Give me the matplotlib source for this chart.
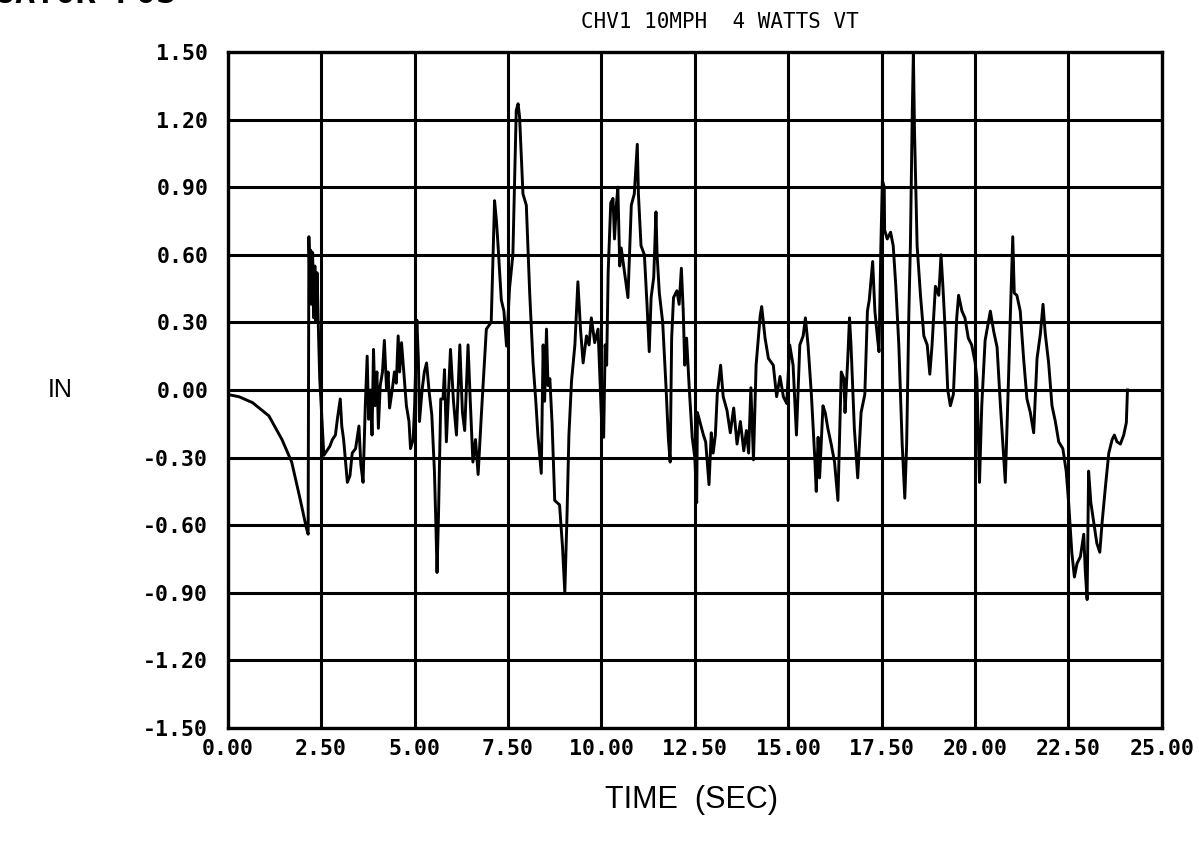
import numpy as np
import matplotlib
matplotlib.use("Agg")
import matplotlib.pyplot as plt


TITLE = "CHV1 10MPH  4 WATTS VT"
X_LABEL = "TIME  (SEC)"
Y_LABEL = "IN"

X_TICKS = [0.0, 2.5, 5.0, 7.5, 10.0, 12.5, 15.0, 17.5, 20.0, 22.5, 25.0]
Y_TICKS = [-1.5, -1.2, -0.9, -0.6, -0.3, 0.0, 0.3, 0.6, 0.9, 1.2, 1.5]

time_s = [
    0.00, 0.30, 0.66, 1.10, 1.45, 1.71, 1.93, 2.10, 2.15,
    2.17, 2.20, 2.22, 2.24, 2.27, 2.30, 2.33, 2.36, 2.39, 2.42, 2.46, 2.50, 2.57,
    2.65, 2.73, 2.80, 2.88, 2.94, 3.01, 3.05, 3.10, 3.20, 3.27, 3.33, 3.42, 3.51,
    3.56, 3.62, 3.68, 3.73, 3.77, 3.82, 3.86, 3.90, 3.94, 3.99, 4.03, 4.08, 4.14,
    4.19, 4.25, 4.29, 4.33, 4.40, 4.46, 4.51, 4.56, 4.60, 4.65, 4.71, 4.78, 4.85,
    4.89, 4.96, 5.00, 5.06, 5.10, 5.13, 5.20, 5.26, 5.32, 5.39, 5.46, 5.53, 5.57,
    5.60, 5.64, 5.70,
    5.76, 5.80, 5.85, 5.96, 6.04, 6.12, 6.21, 6.28, 6.34, 6.43, 6.49, 6.56, 6.63,
    6.70, 6.79, 6.92, 7.05, 7.14, 7.19, 7.23, 7.32, 7.39, 7.46, 7.54, 7.63, 7.72,
    7.77, 7.81, 7.90, 7.99, 8.08, 8.17, 8.24, 8.30, 8.39, 8.44, 8.48, 8.53, 8.57,
    8.62, 8.68, 8.75, 8.88, 8.96, 9.02, 9.08, 9.13, 9.20, 9.29, 9.37, 9.44, 9.51,
    9.60, 9.67, 9.73, 9.82, 9.91, 10.00, 10.06, 10.10, 10.14,
    10.18, 10.25, 10.31, 10.35, 10.40, 10.44, 10.49, 10.53, 10.62, 10.71, 10.80,
    10.88, 10.96, 10.99, 11.06, 11.15, 11.22, 11.28, 11.33, 11.40, 11.46, 11.49,
    11.55, 11.64, 11.73, 11.79, 11.84, 11.88, 11.93, 12.02, 12.08, 12.14, 12.19,
    12.23, 12.28, 12.35, 12.43, 12.50, 12.55, 12.57, 12.65, 12.73, 12.79, 12.88,
    12.94, 12.99, 13.05, 13.10, 13.19, 13.26, 13.36, 13.45, 13.54, 13.63, 13.72,
    13.81, 13.88, 13.94, 14.00, 14.07, 14.14, 14.25, 14.29, 14.38, 14.47, 14.60,
    14.69, 14.78, 14.87, 14.96, 15.04,
    15.13, 15.22, 15.31, 15.40, 15.46, 15.53, 15.62, 15.71, 15.75, 15.80, 15.84,
    15.93, 15.99, 16.06, 16.15, 16.24, 16.33, 16.42, 16.49, 16.52, 16.59, 16.64,
    16.68, 16.77, 16.86, 16.95, 17.05, 17.12, 17.17, 17.26, 17.32, 17.39, 17.43,
    17.48, 17.52, 17.57, 17.58, 17.65, 17.74, 17.81, 17.88, 17.96, 18.05, 18.12,
    18.17, 18.23, 18.27, 18.32, 18.35, 18.38, 18.45, 18.54, 18.63, 18.72, 18.79,
    18.85, 18.94, 19.03, 19.09, 19.14, 19.20, 19.27, 19.34, 19.42, 19.51, 19.56,
    19.65, 19.73, 19.82, 19.91, 20.00, 20.05,
    20.12, 20.18, 20.27, 20.41, 20.50, 20.59, 20.68, 20.81, 20.90, 20.94, 21.01,
    21.05, 21.12, 21.21, 21.30, 21.39, 21.48, 21.57, 21.66, 21.75, 21.82, 21.88,
    21.97, 22.06, 22.15, 22.24, 22.35, 22.44, 22.51, 22.59, 22.66, 22.73, 22.82,
    22.91, 22.95, 23.00, 23.04, 23.10, 23.17, 23.26, 23.34, 23.40, 23.49, 23.58,
    23.67, 23.73, 23.80, 23.89, 23.98, 24.05, 24.08,
]

disp_in = [
    -0.02, -0.03, -0.056, -0.115, -0.22, -0.32, -0.48, -0.61, -0.64,
    0.68, 0.45, 0.62, 0.38, 0.61, 0.32, 0.55, 0.30, 0.52, 0.30, 0.05, -0.07, -0.29,
    -0.27, -0.25, -0.22, -0.20, -0.12, -0.04, -0.16, -0.22, -0.41, -0.38, -0.28, -0.26, -0.16,
    -0.33, -0.41, -0.07, 0.15, -0.13, 0.00, -0.20, 0.18, -0.07, 0.08, -0.17, 0.02, 0.08,
    0.22, 0.00, 0.08, -0.08, 0.00, 0.08, 0.03, 0.24, 0.08, 0.21, 0.08, -0.07, -0.14,
    -0.26, -0.22, -0.07, 0.31, 0.14, -0.14, 0.00, 0.08, 0.12, -0.01, -0.11, -0.36, -0.60,
    -0.81, -0.55, -0.04,
    -0.04, 0.09, -0.23, 0.18, -0.05, -0.20, 0.20, -0.10, -0.18, 0.20, -0.05, -0.32, -0.22,
    -0.375, -0.10, 0.27, 0.30, 0.84, 0.75, 0.65, 0.40, 0.35, 0.195, 0.45, 0.60, 1.24,
    1.27, 1.21, 0.87, 0.82, 0.43, 0.12, -0.04, -0.20, -0.37, 0.20, -0.05, 0.27, 0.02,
    0.05, -0.15, -0.49, -0.51, -0.70, -0.90, -0.55, -0.20, 0.04, 0.20, 0.48, 0.27, 0.12,
    0.24, 0.20, 0.32, 0.21, 0.27, -0.12, -0.21, 0.20, 0.11,
    0.52, 0.83, 0.85, 0.67, 0.82, 0.90, 0.55, 0.63, 0.52, 0.41, 0.82,
    0.87, 1.09, 0.87, 0.64, 0.60, 0.38, 0.17, 0.41, 0.50, 0.79, 0.60,
    0.43, 0.30, 0.01, -0.21, -0.32, 0.23, 0.41, 0.44, 0.38, 0.54, 0.35,
    0.11, 0.23, 0.01, -0.21, -0.30, -0.50, -0.10, -0.15, -0.20, -0.23, -0.42,
    -0.19, -0.28, -0.20, -0.02, 0.11, -0.03, -0.09, -0.19, -0.08, -0.24, -0.14,
    -0.27, -0.18, -0.28, 0.01, -0.31, 0.11, 0.33, 0.37, 0.23, 0.14, 0.11,
    -0.03, 0.06, -0.03, -0.06, 0.20,
    0.11, -0.20, 0.20, 0.24, 0.32, 0.20, -0.02, -0.30, -0.45, -0.21, -0.39,
    -0.07, -0.10, -0.17, -0.24, -0.32, -0.49, 0.08, 0.05, -0.10, 0.125, 0.32,
    0.20, -0.17, -0.39, -0.10, -0.02, 0.35, 0.40, 0.57, 0.35, 0.23, 0.17,
    0.64, 0.93, 0.90, 0.71, 0.67, 0.70, 0.64, 0.46, 0.20, -0.24, -0.48,
    -0.24, 0.35, 0.64, 1.23, 1.50, 1.15, 0.64, 0.42, 0.24, 0.20, 0.07,
    0.20, 0.46, 0.42, 0.60, 0.46, 0.27, 0.00, -0.07, -0.02, 0.32, 0.42,
    0.35, 0.32, 0.23, 0.20, 0.125, 0.05,
    -0.41, -0.07, 0.22, 0.35, 0.26, 0.19, -0.07, -0.41, 0.07, 0.30, 0.68,
    0.43, 0.42, 0.35, 0.14, -0.04, -0.10, -0.19, 0.14, 0.25, 0.38, 0.25,
    0.12, -0.07, -0.14, -0.23, -0.26, -0.36, -0.51, -0.72, -0.83, -0.77, -0.74,
    -0.64, -0.80, -0.93, -0.36, -0.50, -0.58, -0.68, -0.72, -0.59, -0.43, -0.28,
    -0.22, -0.20, -0.23, -0.24, -0.20, -0.145, 0.00,
]


def plot_trace(save_path: str = "out.png"):
    fig = plt.figure(figsize=(11.99, 8.51), dpi=100)
    ax = fig.add_axes([0.190, 0.1445, 0.779, 0.7945])

    ax.plot(np.array(time_s), np.array(disp_in), color="black", linewidth=2.1,
            solid_joinstyle="round", zorder=3)

    ax.set_xlim(X_TICKS[0], X_TICKS[-1])
    ax.set_ylim(Y_TICKS[0], Y_TICKS[-1])
    ax.set_xticks(X_TICKS)
    ax.set_yticks(Y_TICKS)
    ax.set_xticklabels([f"{v:.2f}" for v in X_TICKS])
    ax.set_yticklabels([f"{v:.2f}" for v in Y_TICKS])

    ax.grid(True, color="black", linewidth=2.2, zorder=1)
    for sp in ax.spines.values():
        sp.set_linewidth(2.4)
    ax.tick_params(axis="x", length=0, pad=8)
    ax.tick_params(axis="y", length=0, pad=14)
    for lab in ax.get_xticklabels() + ax.get_yticklabels():
        lab.set_family("DejaVu Sans Mono")
        lab.set_fontweight("bold")
        lab.set_fontsize(15.5)

    fig.text(0.600, 0.974, TITLE, ha="center", va="center",
             family="DejaVu Sans Mono", fontsize=15)
    fig.text(0.050, 0.542, Y_LABEL, ha="center", va="center",
             family="Liberation Sans", fontsize=18)
    fig.text(0.577, 0.060, X_LABEL, ha="center", va="center",
             family="Liberation Sans", fontsize=22)
    # header of the scanned page, cut off at the top edge as in the scan
    fig.text(-0.004, 0.9965, "UATOR POS", ha="left", va="baseline",
             family="DejaVu Sans Mono", fontweight="bold", fontsize=24)

    fig.savefig(save_path, dpi=100)


if __name__ == "__main__":
    plot_trace("out.png")
